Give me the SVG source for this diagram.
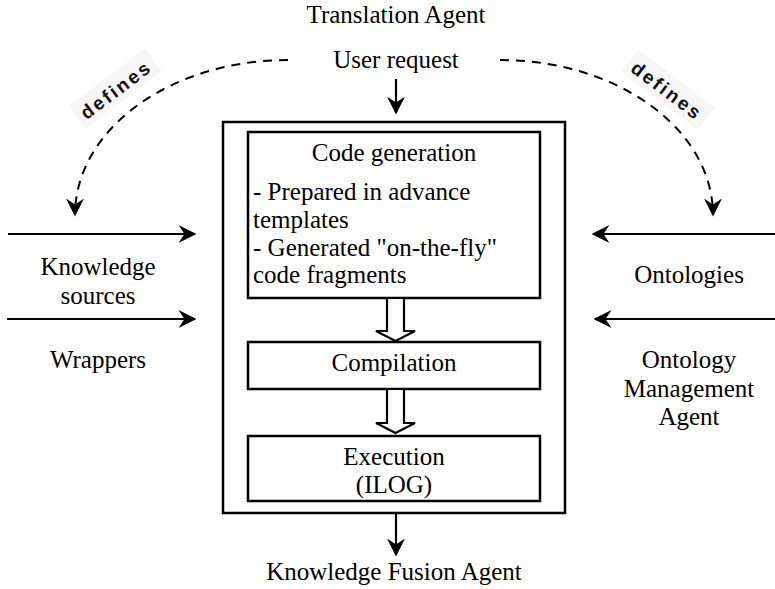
<svg xmlns="http://www.w3.org/2000/svg" width="775" height="589" viewBox="0 0 775 589">
  <style>
    .box { fill: #fff; stroke: #000; stroke-width: 2.5; }
    .line { fill: none; stroke: #000; stroke-width: 2.2; }
    .dash { fill: none; stroke: #000; stroke-width: 2; stroke-dasharray: 9 7; }
    .hollow { fill: #fff; stroke: #000; stroke-width: 2.2; stroke-linejoin: miter; }
  </style>
  <defs>
    <marker id="ahs" viewBox="0 0 12 12" refX="11" refY="6" markerWidth="18" markerHeight="18" markerUnits="userSpaceOnUse" orient="auto">
      <path d="M0,0 L12,6 L0,12 L4,6 Z" fill="#000"/>
    </marker>
  </defs>

  <!-- free labels around the process -->
  <text x="396" y="23" font-family="Liberation Serif" font-size="25" text-anchor="middle">Translation Agent</text>
  <text x="396" y="68" font-family="Liberation Serif" font-size="25" text-anchor="middle">User request</text>
  <text x="394" y="580" font-family="Liberation Serif" font-size="25" text-anchor="middle">Knowledge Fusion Agent</text>

  <g id="knowledge-sources">
    <text x="98" y="275" font-family="Liberation Serif" font-size="25" text-anchor="middle">Knowledge</text>
    <text x="98" y="304" font-family="Liberation Serif" font-size="25" text-anchor="middle">sources</text>
  </g>
  <g id="wrappers">
    <text x="98" y="368" font-family="Liberation Serif" font-size="25" text-anchor="middle">Wrappers</text>
  </g>
  <g id="ontologies">
    <text x="689" y="283" font-family="Liberation Serif" font-size="25" text-anchor="middle">Ontologies</text>
  </g>
  <g id="ontology-agent">
    <text x="689" y="368" font-family="Liberation Serif" font-size="25" text-anchor="middle">Ontology</text>
    <text x="689" y="397" font-family="Liberation Serif" font-size="25" text-anchor="middle">Management</text>
    <text x="689" y="425" font-family="Liberation Serif" font-size="25" text-anchor="middle">Agent</text>
  </g>

  <!-- process container -->
  <g id="translation-agent">
    <rect class="box" x="223" y="122" width="342" height="391"/>
  </g>

  <g id="code-generation">
    <rect class="box" x="248" y="132" width="292" height="166"/>
    <text x="394" y="161" font-family="Liberation Serif" font-size="25" text-anchor="middle">Code generation</text>
    <text x="253" y="200" font-family="Liberation Serif" font-size="25">- Prepared in advance</text>
    <text x="253" y="228" font-family="Liberation Serif" font-size="25">templates</text>
    <text x="253" y="256" font-family="Liberation Serif" font-size="25">- Generated "on-the-fly"</text>
    <text x="253" y="283" font-family="Liberation Serif" font-size="25">code fragments</text>
  </g>

  <g id="compilation">
    <rect class="box" x="248" y="342" width="292" height="47"/>
    <text x="394" y="371" font-family="Liberation Serif" font-size="25" text-anchor="middle">Compilation</text>
  </g>

  <g id="execution">
    <rect class="box" x="248" y="436" width="292" height="65"/>
    <text x="394" y="465" font-family="Liberation Serif" font-size="25" text-anchor="middle">Execution</text>
    <text x="394" y="493" font-family="Liberation Serif" font-size="25" text-anchor="middle">(ILOG)</text>
  </g>

  <g id="connectors">
    <!-- hollow block arrows between stages -->
    <path class="hollow" d="M387,299 L387,331 L376,331 L395.5,341 L415,331 L404,331 L404,299"/>
    <path class="hollow" d="M387,390 L387,423 L376,423 L395.5,433 L415,423 L404,423 L404,390"/>

    <!-- request in, result out -->
    <path class="line" d="M396,79 L396,113" marker-end="url(#ahs)"/>
    <path class="line" d="M396,514 L396,555" marker-end="url(#ahs)"/>

    <!-- inputs from the left -->
    <path class="line" d="M8,234 L195,234" marker-end="url(#ahs)"/>
    <path class="line" d="M7,319 L195,319" marker-end="url(#ahs)"/>

    <!-- inputs from the right -->
    <path class="line" d="M775,234 L593,234" marker-end="url(#ahs)"/>
    <path class="line" d="M775,319 L595,319" marker-end="url(#ahs)"/>

    <!-- "defines" relations -->
    <path class="dash" d="M288,60 A213,155 0 0 0 75,215" marker-end="url(#ahs)"/>
    <path class="dash" d="M500,60 A213,155 0 0 1 713,215" marker-end="url(#ahs)"/>

    <g transform="translate(117,91) rotate(-37)">
      <rect x="-48" y="-17" width="96" height="28" fill="#f6f6f6"/>
      <text x="0" y="5" font-family="Liberation Sans" font-size="19" font-weight="bold" letter-spacing="2.5" fill="#111" text-anchor="middle">defines</text>
    </g>
    <g transform="translate(666,92) rotate(37)">
      <rect x="-48" y="-17" width="96" height="28" fill="#f6f6f6"/>
      <text x="0" y="5" font-family="Liberation Sans" font-size="19" font-weight="bold" letter-spacing="2.5" fill="#111" text-anchor="middle">defines</text>
    </g>
  </g>
</svg>
